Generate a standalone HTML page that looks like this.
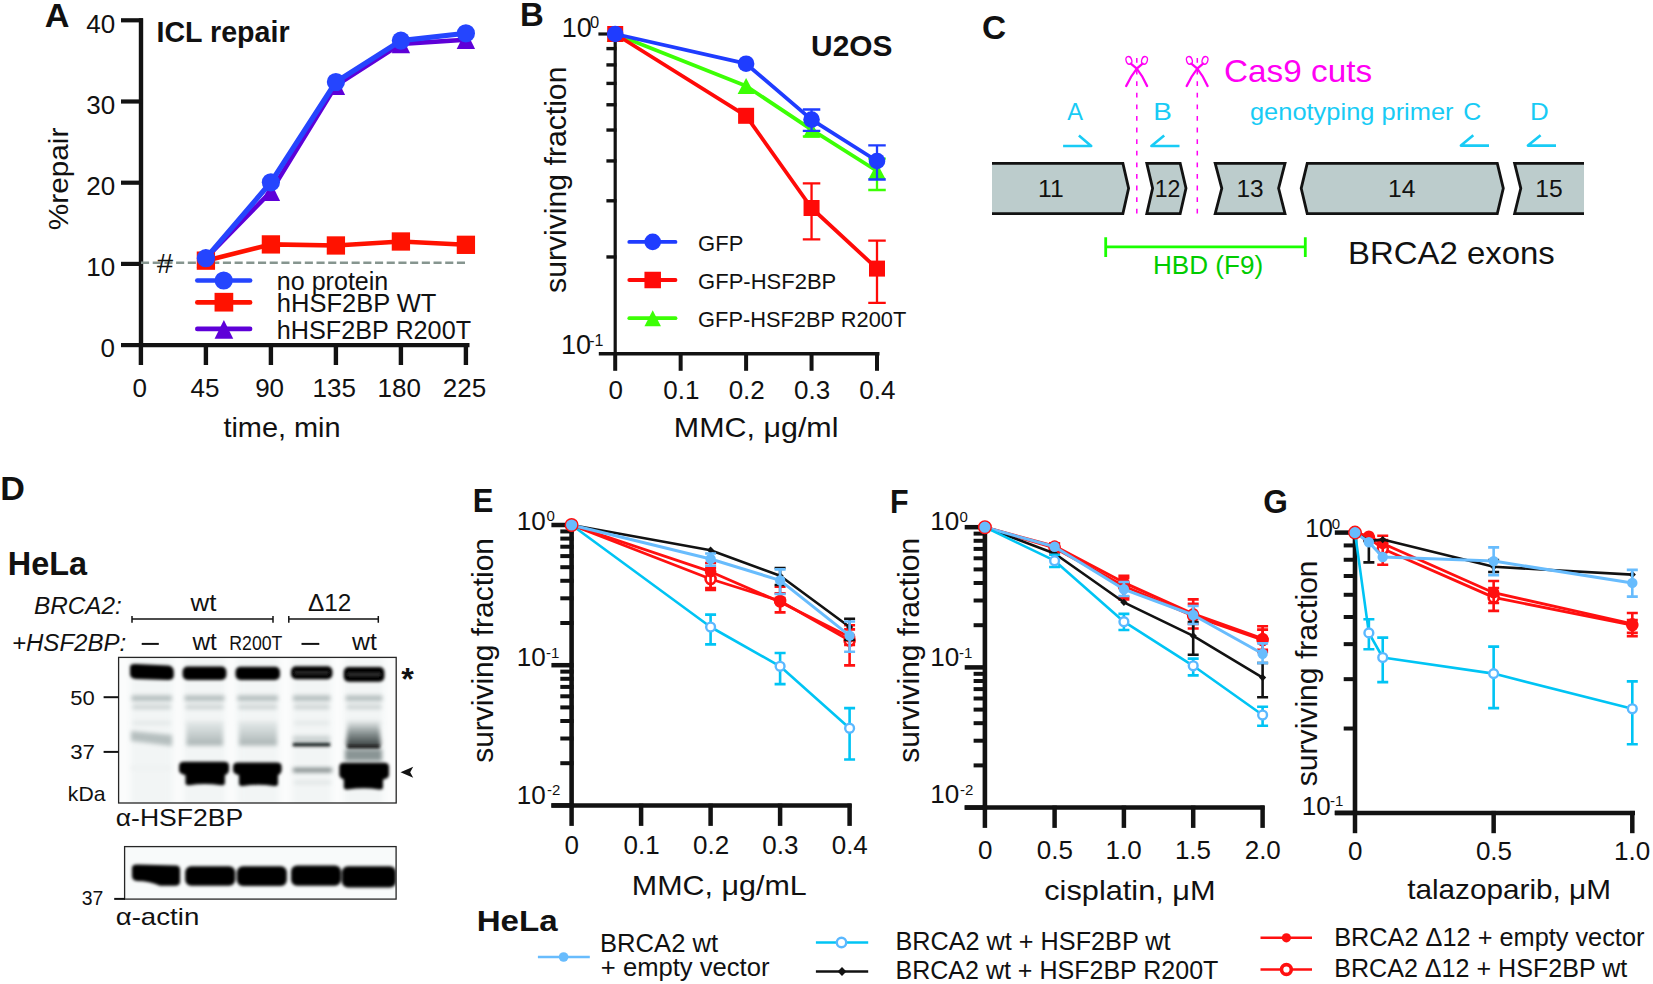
<!DOCTYPE html>
<html><head><meta charset="utf-8"><style>
html,body{margin:0;padding:0;background:#fff;}
body{width:1653px;height:984px;overflow:hidden;font-family:"Liberation Sans",sans-serif;}
svg{display:block;}
</style></head><body>
<svg width="1653" height="984" viewBox="0 0 1653 984">
<rect width="1653" height="984" fill="#fff"/>
<text x="44.67" y="26.50" font-family="Liberation Sans" font-size="34.00" font-weight="bold" fill="#111" textLength="24.73" lengthAdjust="spacingAndGlyphs">A</text>
<text x="156.50" y="41.70" font-family="Liberation Sans" font-size="29.00" font-weight="bold" fill="#111" textLength="133.08" lengthAdjust="spacingAndGlyphs">ICL repair</text>
<line x1="141.00" y1="18.20" x2="141.00" y2="347.00" stroke="#121212" stroke-width="4.4"/>
<line x1="121.00" y1="345.10" x2="142.90" y2="345.10" stroke="#121212" stroke-width="4.2"/>
<text x="100.48" y="357.30" font-family="Liberation Sans" font-size="26.00" fill="#111">0</text>
<line x1="121.00" y1="263.90" x2="142.90" y2="263.90" stroke="#121212" stroke-width="4.2"/>
<text x="86.18" y="276.10" font-family="Liberation Sans" font-size="26.00" fill="#111">10</text>
<line x1="121.00" y1="182.70" x2="142.90" y2="182.70" stroke="#121212" stroke-width="4.2"/>
<text x="86.18" y="194.90" font-family="Liberation Sans" font-size="26.00" fill="#111">20</text>
<line x1="121.00" y1="101.50" x2="142.90" y2="101.50" stroke="#121212" stroke-width="4.2"/>
<text x="86.18" y="113.70" font-family="Liberation Sans" font-size="26.00" fill="#111">30</text>
<line x1="121.00" y1="20.30" x2="142.90" y2="20.30" stroke="#121212" stroke-width="4.2"/>
<text x="86.18" y="32.50" font-family="Liberation Sans" font-size="26.00" fill="#111">40</text>
<line x1="139.00" y1="345.10" x2="469.50" y2="345.10" stroke="#121212" stroke-width="4.2"/>
<line x1="140.90" y1="343.50" x2="140.90" y2="365.00" stroke="#121212" stroke-width="4.4"/>
<text x="132.42" y="396.80" font-family="Liberation Sans" font-size="26.00" fill="#111">0</text>
<line x1="205.90" y1="343.50" x2="205.90" y2="365.00" stroke="#121212" stroke-width="4.4"/>
<text x="190.53" y="396.80" font-family="Liberation Sans" font-size="26.00" fill="#111">45</text>
<line x1="270.90" y1="343.50" x2="270.90" y2="365.00" stroke="#121212" stroke-width="4.4"/>
<text x="255.14" y="396.80" font-family="Liberation Sans" font-size="26.00" fill="#111">90</text>
<line x1="335.90" y1="343.50" x2="335.90" y2="365.00" stroke="#121212" stroke-width="4.4"/>
<text x="312.47" y="396.80" font-family="Liberation Sans" font-size="26.00" fill="#111">135</text>
<line x1="400.90" y1="343.50" x2="400.90" y2="365.00" stroke="#121212" stroke-width="4.4"/>
<text x="377.47" y="396.80" font-family="Liberation Sans" font-size="26.00" fill="#111">180</text>
<line x1="465.90" y1="343.50" x2="465.90" y2="365.00" stroke="#121212" stroke-width="4.4"/>
<text x="442.86" y="396.80" font-family="Liberation Sans" font-size="26.00" fill="#111">225</text>
<text x="223.41" y="437.00" font-family="Liberation Sans" font-size="28.00" fill="#111" textLength="117.20" lengthAdjust="spacingAndGlyphs">time, min</text>
<text transform="translate(67.50,229.10) rotate(-90)" x="-1.19" y="0" font-family="Liberation Sans" font-size="28.00" fill="#111" textLength="102.67" lengthAdjust="spacingAndGlyphs">%repair</text>
<line x1="141" y1="262.7" x2="467" y2="262.7" stroke="#86958f" stroke-width="2.4" stroke-dasharray="8.1 3.6"/>
<text x="156.62" y="273.20" font-family="Liberation Sans" font-size="27.00" font-style="italic" fill="#111" textLength="16.18" lengthAdjust="spacingAndGlyphs">#</text>
<polyline points="205.90,258.22 270.90,191.63 335.90,85.67 400.90,43.85 465.90,39.79" fill="none" stroke="#5e00d8" stroke-width="4.6" stroke-linejoin="round"/>
<polygon points="196.70,267.52 215.10,267.52 205.90,248.92" fill="#5e00d8"/>
<polygon points="261.70,200.93 280.10,200.93 270.90,182.33" fill="#5e00d8"/>
<polygon points="326.70,94.97 345.10,94.97 335.90,76.37" fill="#5e00d8"/>
<polygon points="391.70,53.15 410.10,53.15 400.90,34.55" fill="#5e00d8"/>
<polygon points="456.70,49.09 475.10,49.09 465.90,30.49" fill="#5e00d8"/>
<polyline points="205.90,260.65 270.90,244.41 335.90,245.47 400.90,241.49 465.90,244.82" fill="none" stroke="#ff1200" stroke-width="4.6" stroke-linejoin="round"/>
<rect x="196.75" y="251.50" width="18.30" height="18.30" fill="#ff1200"/>
<rect x="261.75" y="235.26" width="18.30" height="18.30" fill="#ff1200"/>
<rect x="326.75" y="236.32" width="18.30" height="18.30" fill="#ff1200"/>
<rect x="391.75" y="232.34" width="18.30" height="18.30" fill="#ff1200"/>
<rect x="456.75" y="235.67" width="18.30" height="18.30" fill="#ff1200"/>
<polyline points="205.90,258.22 270.90,182.29 335.90,82.01 400.90,40.60 465.90,33.29" fill="none" stroke="#2545fe" stroke-width="5.2" stroke-linejoin="round"/>
<circle cx="205.90" cy="258.22" r="9.10" fill="#2545fe" stroke="none" stroke-width="0"/>
<circle cx="270.90" cy="182.29" r="9.10" fill="#2545fe" stroke="none" stroke-width="0"/>
<circle cx="335.90" cy="82.01" r="9.10" fill="#2545fe" stroke="none" stroke-width="0"/>
<circle cx="400.90" cy="40.60" r="9.10" fill="#2545fe" stroke="none" stroke-width="0"/>
<circle cx="465.90" cy="33.29" r="9.10" fill="#2545fe" stroke="none" stroke-width="0"/>
<line x1="197.30" y1="280.50" x2="250.10" y2="280.50" stroke="#2545fe" stroke-width="4.6" stroke-linecap="round"/>
<circle cx="223.70" cy="280.50" r="9.10" fill="#2545fe" stroke="none" stroke-width="0"/>
<line x1="197.30" y1="302.40" x2="250.10" y2="302.40" stroke="#ff1200" stroke-width="4.6" stroke-linecap="round"/>
<rect x="214.55" y="292.85" width="18.70" height="18.70" fill="#ff1200"/>
<line x1="197.30" y1="328.90" x2="250.10" y2="328.90" stroke="#5e00d8" stroke-width="4.6" stroke-linecap="round"/>
<polygon points="214.55,338.75 233.25,338.75 223.90,320.05" fill="#5e00d8"/>
<text x="276.85" y="289.60" font-family="Liberation Sans" font-size="25.50" fill="#111" textLength="111.45" lengthAdjust="spacingAndGlyphs">no protein</text>
<text x="276.81" y="312.00" font-family="Liberation Sans" font-size="25.50" fill="#111">hHSF2BP WT</text>
<text x="276.84" y="338.80" font-family="Liberation Sans" font-size="25.50" fill="#111" textLength="194.21" lengthAdjust="spacingAndGlyphs">hHSF2BP R200T</text>
<text x="520.09" y="26.40" font-family="Liberation Sans" font-size="34.00" font-weight="bold" fill="#111" textLength="23.80" lengthAdjust="spacingAndGlyphs">B</text>
<text x="811.11" y="55.90" font-family="Liberation Sans" font-size="30.00" font-weight="bold" fill="#111" textLength="81.28" lengthAdjust="spacingAndGlyphs">U2OS</text>
<line x1="615.20" y1="32.50" x2="615.20" y2="355.00" stroke="#121212" stroke-width="3.2"/>
<line x1="598.40" y1="34.00" x2="616.50" y2="34.00" stroke="#121212" stroke-width="3.2"/>
<line x1="606.40" y1="256.97" x2="616.50" y2="256.97" stroke="#121212" stroke-width="3.4"/>
<line x1="606.40" y1="200.80" x2="616.50" y2="200.80" stroke="#121212" stroke-width="3.4"/>
<line x1="606.40" y1="160.94" x2="616.50" y2="160.94" stroke="#121212" stroke-width="3.4"/>
<line x1="606.40" y1="130.03" x2="616.50" y2="130.03" stroke="#121212" stroke-width="3.4"/>
<line x1="606.40" y1="104.77" x2="616.50" y2="104.77" stroke="#121212" stroke-width="3.4"/>
<line x1="606.40" y1="83.41" x2="616.50" y2="83.41" stroke="#121212" stroke-width="3.4"/>
<line x1="606.40" y1="64.91" x2="616.50" y2="64.91" stroke="#121212" stroke-width="3.4"/>
<line x1="606.40" y1="48.60" x2="616.50" y2="48.60" stroke="#121212" stroke-width="3.4"/>
<line x1="598.80" y1="353.70" x2="879.50" y2="353.70" stroke="#121212" stroke-width="3.4"/>
<line x1="615.20" y1="352.00" x2="615.20" y2="370.80" stroke="#121212" stroke-width="4"/>
<text x="608.42" y="398.70" font-family="Liberation Sans" font-size="26.00" fill="#111">0</text>
<line x1="680.65" y1="352.00" x2="680.65" y2="370.80" stroke="#121212" stroke-width="4"/>
<text x="663.21" y="398.70" font-family="Liberation Sans" font-size="26.00" fill="#111">0.1</text>
<line x1="746.10" y1="352.00" x2="746.10" y2="370.80" stroke="#121212" stroke-width="4"/>
<text x="728.66" y="398.70" font-family="Liberation Sans" font-size="26.00" fill="#111">0.2</text>
<line x1="811.55" y1="352.00" x2="811.55" y2="370.80" stroke="#121212" stroke-width="4"/>
<text x="793.98" y="398.70" font-family="Liberation Sans" font-size="26.00" fill="#111">0.3</text>
<line x1="877.00" y1="352.00" x2="877.00" y2="370.80" stroke="#121212" stroke-width="4"/>
<text x="859.30" y="398.70" font-family="Liberation Sans" font-size="26.00" fill="#111">0.4</text>
<text x="561.63" y="37.00" font-family="Liberation Sans" font-size="27.00" fill="#111" textLength="30.11" lengthAdjust="spacingAndGlyphs">10</text>
<text x="590.02" y="28.30" font-family="Liberation Sans" font-size="16.50" fill="#111">0</text>
<text x="560.93" y="353.70" font-family="Liberation Sans" font-size="27.00" fill="#111" textLength="30.11" lengthAdjust="spacingAndGlyphs">10</text>
<text x="589.16" y="346.30" font-family="Liberation Sans" font-size="16.00" fill="#111">-1</text>
<text x="673.87" y="436.90" font-family="Liberation Sans" font-size="28.00" fill="#111" textLength="164.64" lengthAdjust="spacingAndGlyphs">MMC, μg/ml</text>
<text transform="translate(566.00,292.00) rotate(-90)" x="-0.90" y="0" font-family="Liberation Sans" font-size="30.00" fill="#111" textLength="226.30" lengthAdjust="spacingAndGlyphs">surviving fraction</text>
<path d="M811.55,124.00V136.40M802.80,124.00h17.50M802.80,136.40h17.50" stroke="#3cff05" stroke-width="2.3" fill="none"/>
<path d="M877.00,158.70V190.00M868.25,158.70h17.50M868.25,190.00h17.50" stroke="#3cff05" stroke-width="2.3" fill="none"/>
<polyline points="615.20,34.00 746.10,86.00 811.55,129.70 877.00,171.00" fill="none" stroke="#3cff05" stroke-width="3.8" stroke-linejoin="round"/>
<polygon points="606.70,42.00 623.70,42.00 615.20,26.00" fill="#3cff05"/>
<polygon points="737.60,94.00 754.60,94.00 746.10,78.00" fill="#3cff05"/>
<polygon points="803.05,137.70 820.05,137.70 811.55,121.70" fill="#3cff05"/>
<polygon points="868.50,179.00 885.50,179.00 877.00,163.00" fill="#3cff05"/>
<path d="M811.55,183.30V239.40M802.80,183.30h17.50M802.80,239.40h17.50" stroke="#ff0a08" stroke-width="2.3" fill="none"/>
<path d="M877.00,240.70V302.90M868.25,240.70h17.50M868.25,302.90h17.50" stroke="#ff0a08" stroke-width="2.3" fill="none"/>
<polyline points="615.20,34.00 746.10,115.80 811.55,208.00 877.00,268.60" fill="none" stroke="#ff0a08" stroke-width="3.8" stroke-linejoin="round"/>
<rect x="607.20" y="26.00" width="16.00" height="16.00" fill="#ff0a08"/>
<rect x="738.10" y="107.80" width="16.00" height="16.00" fill="#ff0a08"/>
<rect x="803.55" y="200.00" width="16.00" height="16.00" fill="#ff0a08"/>
<rect x="869.00" y="260.60" width="16.00" height="16.00" fill="#ff0a08"/>
<path d="M811.55,109.50V130.80M802.80,109.50h17.50M802.80,130.80h17.50" stroke="#1f3cff" stroke-width="2.3" fill="none"/>
<path d="M877.00,145.30V179.50M868.25,145.30h17.50M868.25,179.50h17.50" stroke="#1f3cff" stroke-width="2.3" fill="none"/>
<polyline points="615.20,34.00 746.10,63.70 811.55,119.60 877.00,161.00" fill="none" stroke="#1f3cff" stroke-width="3.8" stroke-linejoin="round"/>
<circle cx="615.20" cy="34.00" r="8.30" fill="#1f3cff" stroke="none" stroke-width="0"/>
<circle cx="746.10" cy="63.70" r="8.30" fill="#1f3cff" stroke="none" stroke-width="0"/>
<circle cx="811.55" cy="119.60" r="8.30" fill="#1f3cff" stroke="none" stroke-width="0"/>
<circle cx="877.00" cy="161.00" r="8.30" fill="#1f3cff" stroke="none" stroke-width="0"/>
<line x1="629.30" y1="241.90" x2="675.50" y2="241.90" stroke="#1f3cff" stroke-width="3.8" stroke-linecap="round"/>
<circle cx="652.70" cy="241.90" r="8.30" fill="#1f3cff" stroke="none" stroke-width="0"/>
<line x1="629.30" y1="280.00" x2="675.50" y2="280.00" stroke="#ff0a08" stroke-width="3.8" stroke-linecap="round"/>
<rect x="644.45" y="271.75" width="16.50" height="16.50" fill="#ff0a08"/>
<line x1="629.30" y1="318.20" x2="675.50" y2="318.20" stroke="#3cff05" stroke-width="3.8" stroke-linecap="round"/>
<polygon points="644.45,326.20 660.95,326.20 652.70,310.20" fill="#3cff05"/>
<text x="698.10" y="250.80" font-family="Liberation Sans" font-size="22.00" fill="#111">GFP</text>
<text x="698.10" y="288.80" font-family="Liberation Sans" font-size="22.00" fill="#111">GFP-HSF2BP</text>
<text x="698.11" y="327.00" font-family="Liberation Sans" font-size="22.00" fill="#111" textLength="208.13" lengthAdjust="spacingAndGlyphs">GFP-HSF2BP R200T</text>
<text x="981.96" y="39.40" font-family="Liberation Sans" font-size="34.00" font-weight="bold" fill="#111" textLength="24.11" lengthAdjust="spacingAndGlyphs">C</text>
<polygon points="992,163.4 1122.9,163.4 1128.6,188.3 1122.9,213.6 992,213.6" fill="#bccccc"/>
<polyline points="992,163.4 1122.9,163.4 1128.6,188.3 1122.9,213.6 992,213.6" fill="none" stroke="#121212" stroke-width="2.8" stroke-linejoin="miter"/>
<polygon points="1146.8,163.4 1180.2,163.4 1186,188.3 1180.2,213.6 1146.8,213.6 1152.6,188.3" fill="#bccccc" stroke="#121212" stroke-width="2.8"/>
<polygon points="1215.2,163.4 1285,163.4 1278.6,188.3 1285,213.6 1215.2,213.6 1221.8,188.3" fill="#bccccc" stroke="#121212" stroke-width="2.8"/>
<polygon points="1307.2,163.4 1497.3,163.4 1503.3,188.3 1497.3,213.6 1307.2,213.6 1301.2,188.3" fill="#bccccc" stroke="#121212" stroke-width="2.8"/>
<polygon points="1514.6,163.4 1584,163.4 1584,213.6 1514.6,213.6 1520.8,188.3" fill="#bccccc"/>
<polyline points="1584,163.4 1514.6,163.4 1520.8,188.3 1514.6,213.6 1584,213.6" fill="none" stroke="#121212" stroke-width="2.8"/>
<text x="1038.02" y="196.60" font-family="Liberation Sans" font-size="23.50" fill="#111" textLength="25.67" lengthAdjust="spacingAndGlyphs">11</text>
<text x="1154.65" y="196.60" font-family="Liberation Sans" font-size="23.50" fill="#111" textLength="25.77" lengthAdjust="spacingAndGlyphs">12</text>
<text x="1236.44" y="196.60" font-family="Liberation Sans" font-size="23.50" fill="#111" textLength="27.19" lengthAdjust="spacingAndGlyphs">13</text>
<text x="1388.03" y="196.60" font-family="Liberation Sans" font-size="23.50" fill="#111" textLength="27.36" lengthAdjust="spacingAndGlyphs">14</text>
<text x="1535.23" y="196.60" font-family="Liberation Sans" font-size="23.50" fill="#111" textLength="27.42" lengthAdjust="spacingAndGlyphs">15</text>
<line x1="1136.8" y1="58" x2="1136.8" y2="214" stroke="#ff00f4" stroke-width="1.5" stroke-dasharray="4.8 6.8"/>
<g fill="none" stroke="#ff00f4" stroke-linecap="round"><ellipse cx="1128.8999999999999" cy="60.4" rx="2.8" ry="3.9" stroke-width="1.3" transform="rotate(-18 1128.8999999999999 60.4)"/><ellipse cx="1144.5" cy="60.4" rx="2.8" ry="3.9" stroke-width="1.3" transform="rotate(18 1144.5 60.4)"/><path d="M1130.8,63.6 L1136.8,68.6 Q1142.8,76 1147.1,86" stroke-width="2.3"/><path d="M1142.6,63.6 L1136.8,68.6 Q1130.8,76 1126.2,86" stroke-width="2.3"/></g>
<line x1="1197.3" y1="58" x2="1197.3" y2="214" stroke="#ff00f4" stroke-width="1.5" stroke-dasharray="4.8 6.8"/>
<g fill="none" stroke="#ff00f4" stroke-linecap="round"><ellipse cx="1189.3999999999999" cy="60.4" rx="2.8" ry="3.9" stroke-width="1.3" transform="rotate(-18 1189.3999999999999 60.4)"/><ellipse cx="1205.0" cy="60.4" rx="2.8" ry="3.9" stroke-width="1.3" transform="rotate(18 1205.0 60.4)"/><path d="M1191.3,63.6 L1197.3,68.6 Q1203.3,76 1207.6,86" stroke-width="2.3"/><path d="M1203.1,63.6 L1197.3,68.6 Q1191.3,76 1186.7,86" stroke-width="2.3"/></g>
<text x="1223.93" y="82.30" font-family="Liberation Sans" font-size="32.00" fill="#ff00f4" textLength="148.18" lengthAdjust="spacingAndGlyphs">Cas9 cuts</text>
<text x="1067.20" y="120.10" font-family="Liberation Sans" font-size="24.00" fill="#18cbf5" textLength="15.77" lengthAdjust="spacingAndGlyphs">A</text>
<text x="1153.17" y="120.10" font-family="Liberation Sans" font-size="24.00" fill="#18cbf5" textLength="18.63" lengthAdjust="spacingAndGlyphs">B</text>
<text x="1463.35" y="120.10" font-family="Liberation Sans" font-size="24.00" fill="#18cbf5" textLength="18.00" lengthAdjust="spacingAndGlyphs">C</text>
<text x="1529.93" y="120.10" font-family="Liberation Sans" font-size="24.00" fill="#18cbf5" textLength="18.73" lengthAdjust="spacingAndGlyphs">D</text>
<text x="1249.98" y="120.20" font-family="Liberation Sans" font-size="24.50" fill="#18cbf5" textLength="203.59" lengthAdjust="spacingAndGlyphs">genotyping primer</text>
<g fill="none" stroke="#18cbf5" stroke-width="2.6" stroke-linejoin="round"><polyline points="1063.1,146 1091.2,146 1078.9,135.6"/><polyline points="1179.5,146 1151.4,146 1164.2,135.6"/><polyline points="1489,145.6 1460.9,145.6 1473.3,135.3"/><polyline points="1556,145.6 1527.9,145.6 1540.6,135.3"/></g>
<path d="M1105.7,246.9H1305.3M1105.7,237.2V256.9M1305.3,237.2V256.9" stroke="#1aff00" stroke-width="2.8" fill="none"/>
<text x="1152.91" y="274.40" font-family="Liberation Sans" font-size="26.00" fill="#00cc00" textLength="110.21" lengthAdjust="spacingAndGlyphs">HBD (F9)</text>
<text x="1348.07" y="264.40" font-family="Liberation Sans" font-size="32.00" fill="#111" textLength="206.67" lengthAdjust="spacingAndGlyphs">BRCA2 exons</text>
<text x="0.31" y="500.20" font-family="Liberation Sans" font-size="34.00" font-weight="bold" fill="#111" textLength="24.63" lengthAdjust="spacingAndGlyphs">D</text>
<text x="7.73" y="575.10" font-family="Liberation Sans" font-size="33.00" font-weight="bold" fill="#111" textLength="79.32" lengthAdjust="spacingAndGlyphs">HeLa</text>
<text x="33.97" y="614.20" font-family="Liberation Sans" font-size="24.50" font-style="italic" fill="#111" textLength="87.76" lengthAdjust="spacingAndGlyphs">BRCA2:</text>
<text x="11.96" y="650.60" font-family="Liberation Sans" font-size="24.50" font-style="italic" fill="#111" textLength="114.25" lengthAdjust="spacingAndGlyphs">+HSF2BP:</text>
<text x="190.50" y="611.20" font-family="Liberation Sans" font-size="24.50" fill="#111" textLength="25.86" lengthAdjust="spacingAndGlyphs">wt</text>
<text x="308.07" y="611.20" font-family="Liberation Sans" font-size="24.50" fill="#111" textLength="43.36" lengthAdjust="spacingAndGlyphs">Δ12</text>
<path d="M132,619H273M132,615.9V622.7M273,615.9V622.7M288.8,619H378.3M288.8,615.9V622.7M378.3,615.9V622.7" stroke="#121212" stroke-width="1.5" fill="none"/>
<line x1="141.70" y1="643.90" x2="158.80" y2="643.90" stroke="#121212" stroke-width="2"/>
<line x1="301.50" y1="643.90" x2="319.30" y2="643.90" stroke="#121212" stroke-width="2"/>
<text x="192.40" y="649.50" font-family="Liberation Sans" font-size="24.50" fill="#111" textLength="24.44" lengthAdjust="spacingAndGlyphs">wt</text>
<text x="229.28" y="649.50" font-family="Liberation Sans" font-size="21.00" fill="#111" textLength="53.10" lengthAdjust="spacingAndGlyphs">R200T</text>
<text x="352.00" y="649.50" font-family="Liberation Sans" font-size="24.50" fill="#111" textLength="24.85" lengthAdjust="spacingAndGlyphs">wt</text>
<defs><filter id="b1" x="-20%" y="-50%" width="140%" height="200%"><feGaussianBlur stdDeviation="1.4"/></filter><filter id="b2" x="-30%" y="-80%" width="160%" height="260%"><feGaussianBlur stdDeviation="2.3"/></filter><filter id="b3" x="-30%" y="-80%" width="160%" height="260%"><feGaussianBlur stdDeviation="3.2"/></filter><clipPath id="cb1"><rect x="118.5" y="657.5" width="277.5" height="145.5"/></clipPath><clipPath id="cb2"><rect x="124.8" y="847" width="271.4" height="52"/></clipPath><linearGradient id="sm2" x1="0" y1="0" x2="0" y2="1"><stop offset="0" stop-color="#dfe5e5"/><stop offset="0.55" stop-color="#c3cbcb"/><stop offset="1" stop-color="#a9b3b3"/></linearGradient><linearGradient id="sm5" x1="0" y1="0" x2="0" y2="1"><stop offset="0" stop-color="#eef2f2"/><stop offset="0.5" stop-color="#8a9494"/><stop offset="1" stop-color="#3a4242"/></linearGradient></defs>
<g clip-path="url(#cb1)">
<rect x="118.5" y="657.5" width="277.5" height="145.5" fill="#fbfcfc"/>
<g filter="url(#b3)">
<rect x="130.6" y="657" width="42.20000000000002" height="150" fill="#f2f5f5"/>
<rect x="183.6" y="657" width="41.80000000000001" height="150" fill="#f2f5f5"/>
<rect x="236.5" y="657" width="42.5" height="150" fill="#f2f5f5"/>
<rect x="292" y="657" width="39.39999999999998" height="150" fill="#f2f5f5"/>
<rect x="344.7" y="657" width="38.69999999999999" height="150" fill="#f2f5f5"/>
</g>
<g filter="url(#b2)">
<rect x="131.6" y="695.5" width="40.20000000000002" height="5.5" fill="#b4bdbd"/>
<rect x="132.6" y="705" width="38.20000000000002" height="4" fill="#c9d0d0"/>
<rect x="132.6" y="721.5" width="38.20000000000002" height="3" fill="#e0e5e5"/>
<rect x="184.6" y="695.5" width="39.80000000000001" height="5.5" fill="#b4bdbd"/>
<rect x="185.6" y="705" width="37.80000000000001" height="4" fill="#c9d0d0"/>
<rect x="185.6" y="721.5" width="37.80000000000001" height="3" fill="#e0e5e5"/>
<rect x="237.5" y="695.5" width="40.5" height="5.5" fill="#b4bdbd"/>
<rect x="238.5" y="705" width="38.5" height="4" fill="#c9d0d0"/>
<rect x="238.5" y="721.5" width="38.5" height="3" fill="#e0e5e5"/>
<rect x="293" y="695.5" width="37.39999999999998" height="5.5" fill="#b4bdbd"/>
<rect x="294" y="705" width="35.39999999999998" height="4" fill="#c9d0d0"/>
<rect x="294" y="721.5" width="35.39999999999998" height="3" fill="#e0e5e5"/>
<rect x="345.7" y="695.5" width="36.69999999999999" height="5.5" fill="#b4bdbd"/>
<rect x="346.7" y="705" width="34.69999999999999" height="4" fill="#c9d0d0"/>
<rect x="346.7" y="721.5" width="34.69999999999999" height="3" fill="#e0e5e5"/>
<path d="M131,731 Q150,733 172,735 L172,746 Q150,743 131,741 Z" fill="#b6bfbf"/>
<rect x="186.5" y="724" width="36.5" height="21.5" fill="url(#sm2)"/>
<rect x="239" y="724" width="38" height="21.5" fill="url(#sm2)"/>
<rect x="293" y="736" width="37" height="6" fill="#c9d0d0"/>
<path d="M348,720 L379,720 L381,746 L346,746 Z" fill="url(#sm5)"/>
<rect x="345" y="749" width="37" height="12" fill="#8a9595"/>
<rect x="293" y="768" width="39" height="4.2" fill="#7a8484"/>
<rect x="294" y="781" width="37" height="3" fill="#dde2e2"/>
<rect x="131" y="766" width="40" height="4" fill="#eef1f1"/>
</g>
<g filter="url(#b1)">
<rect x="292.5" y="742.8" width="38" height="3.8" rx="1.5" fill="#1e2222"/>
<rect x="347" y="744.6" width="33" height="3.6" rx="1.5" fill="#0c0c0c"/>
<path d="M130,667 Q130,663.5 136,664 L168,665.5 Q173.8,666 173.8,672 L173.8,676 Q173.5,680 168,680 L136,679 Q130,678.5 130,674 Z" fill="#060606"/>
<rect x="182.6" y="666.6" width="43.80000000000001" height="13.399999999999977" rx="5" fill="#060606"/>
<rect x="235.5" y="666.8" width="44.5" height="13.200000000000045" rx="5" fill="#060606"/>
<rect x="291" y="666.3" width="41.39999999999998" height="13.0" rx="5" fill="#060606"/>
<rect x="343.7" y="667" width="40.69999999999999" height="14.700000000000045" rx="5" fill="#060606"/>
<rect x="295" y="672.3" width="33.39999999999998" height="1.0" fill="#555"/>
<rect x="347.7" y="673.9" width="32.69999999999999" height="1.0" fill="#555"/>
<path d="M179.1,765.8 Q179.1,761.8 184.1,761.8 L224,761.8 Q229,761.8 229,765.8 L229,771 Q228,774 224.9,775 L224.9,783.2 Q224.9,785.2 220.9,785.2 Q204.05,782.7 189.5,785.2 Q185.5,785.2 185.5,783.2 L185.5,775 Q180.1,774 179.1,771 Z" fill="#060606"/>
<path d="M233.1,766.6 Q233.1,762.6 238.1,762.6 L276.6,762.6 Q281.6,762.6 281.6,766.6 L281.6,771 Q280.6,774 278,775 L278,784 Q278,786 274,786 Q257.35,783.5 243,786 Q239,786 239,784 L239,775 Q234.1,774 233.1,771 Z" fill="#060606"/>
<path d="M339.3,766.7 Q339.3,762.7 344.3,762.7 L384,762.7 Q389,762.7 389,766.7 L389,775.4 Q388,778.4 383,779.4 L383,787.6 Q383,789.6 379,789.6 Q364.15,787.1 347.8,789.6 Q343.8,789.6 343.8,787.6 L343.8,779.4 Q340.3,778.4 339.3,775.4 Z" fill="#060606"/>
</g>
</g>
<rect x="118.6" y="657.4" width="277.6" height="145.6" fill="none" stroke="#262626" stroke-width="1.3"/>
<text x="401.20" y="690.00" font-family="Liberation Sans" font-size="32.00" font-weight="bold" fill="#111" textLength="12.57" lengthAdjust="spacingAndGlyphs">*</text>
<polygon points="400.5,772.3 413.2,766.8 410.2,772.3 413.2,777.8" fill="#121212"/>
<text x="70.22" y="705.10" font-family="Liberation Sans" font-size="19.50" fill="#111" textLength="24.51" lengthAdjust="spacingAndGlyphs">50</text>
<line x1="103.60" y1="697.20" x2="118.50" y2="697.20" stroke="#121212" stroke-width="2"/>
<text x="70.21" y="759.30" font-family="Liberation Sans" font-size="19.50" fill="#111" textLength="24.76" lengthAdjust="spacingAndGlyphs">37</text>
<line x1="103.60" y1="751.90" x2="118.50" y2="751.90" stroke="#121212" stroke-width="2"/>
<text x="67.82" y="801.10" font-family="Liberation Sans" font-size="21.00" fill="#111" textLength="37.65" lengthAdjust="spacingAndGlyphs">kDa</text>
<text x="115.74" y="826.20" font-family="Liberation Sans" font-size="24.00" fill="#111" textLength="127.53" lengthAdjust="spacingAndGlyphs">α-HSF2BP</text>
<g clip-path="url(#cb2)">
<rect x="124.8" y="847" width="271.4" height="52" fill="#f8fafa"/>
<g filter="url(#b1)">
<path d="M132,868 Q132,864.6 137,864.6 L176,865.5 Q180.1,865.5 180.1,870 L180.1,882 Q180,885.7 175,885.7 L160,885.7 Q150,881 137,881 Q132,880.6 132,876 Z" fill="#060606"/>
<rect x="185.2" y="866.3" width="50.0" height="19.40000000000009" rx="6" fill="#060606"/>
<rect x="236.9" y="866.3" width="49.900000000000006" height="19.700000000000045" rx="6" fill="#060606"/>
<rect x="291.1" y="865.5" width="49.89999999999998" height="20.200000000000045" rx="6" fill="#060606"/>
<rect x="341.9" y="866.3" width="54.10000000000002" height="21.100000000000023" rx="6" fill="#060606"/>
</g></g>
<rect x="124.6" y="846.6" width="271.5" height="52.5" fill="none" stroke="#262626" stroke-width="1.3"/>
<text x="81.72" y="905.20" font-family="Liberation Sans" font-size="19.50" fill="#111" textLength="21.59" lengthAdjust="spacingAndGlyphs">37</text>
<line x1="114.20" y1="898.90" x2="125.00" y2="898.90" stroke="#121212" stroke-width="2"/>
<text x="115.69" y="924.50" font-family="Liberation Sans" font-size="24.00" fill="#111" textLength="83.56" lengthAdjust="spacingAndGlyphs">α-actin</text>
<text x="472.64" y="512.40" font-family="Liberation Sans" font-size="34.00" font-weight="bold" fill="#111" textLength="20.61" lengthAdjust="spacingAndGlyphs">E</text>
<line x1="571.60" y1="522.80" x2="571.60" y2="807.60" stroke="#121212" stroke-width="4.6"/>
<line x1="551.40" y1="525.00" x2="573.60" y2="525.00" stroke="#121212" stroke-width="4.5"/>
<line x1="551.40" y1="665.20" x2="573.60" y2="665.20" stroke="#121212" stroke-width="4.5"/>
<line x1="551.40" y1="805.40" x2="573.60" y2="805.40" stroke="#121212" stroke-width="4.5"/>
<line x1="560.30" y1="623.00" x2="573.60" y2="623.00" stroke="#121212" stroke-width="4.0"/>
<line x1="560.30" y1="598.31" x2="573.60" y2="598.31" stroke="#121212" stroke-width="4.0"/>
<line x1="560.30" y1="580.79" x2="573.60" y2="580.79" stroke="#121212" stroke-width="4.0"/>
<line x1="560.30" y1="567.20" x2="573.60" y2="567.20" stroke="#121212" stroke-width="4.0"/>
<line x1="560.30" y1="556.10" x2="573.60" y2="556.10" stroke="#121212" stroke-width="4.0"/>
<line x1="560.30" y1="546.72" x2="573.60" y2="546.72" stroke="#121212" stroke-width="4.0"/>
<line x1="560.30" y1="538.59" x2="573.60" y2="538.59" stroke="#121212" stroke-width="4.0"/>
<line x1="560.30" y1="531.42" x2="573.60" y2="531.42" stroke="#121212" stroke-width="4.0"/>
<line x1="560.30" y1="763.20" x2="573.60" y2="763.20" stroke="#121212" stroke-width="4.0"/>
<line x1="560.30" y1="738.51" x2="573.60" y2="738.51" stroke="#121212" stroke-width="4.0"/>
<line x1="560.30" y1="720.99" x2="573.60" y2="720.99" stroke="#121212" stroke-width="4.0"/>
<line x1="560.30" y1="707.40" x2="573.60" y2="707.40" stroke="#121212" stroke-width="4.0"/>
<line x1="560.30" y1="696.30" x2="573.60" y2="696.30" stroke="#121212" stroke-width="4.0"/>
<line x1="560.30" y1="686.92" x2="573.60" y2="686.92" stroke="#121212" stroke-width="4.0"/>
<line x1="560.30" y1="678.79" x2="573.60" y2="678.79" stroke="#121212" stroke-width="4.0"/>
<line x1="560.30" y1="671.62" x2="573.60" y2="671.62" stroke="#121212" stroke-width="4.0"/>
<line x1="551.40" y1="805.60" x2="851.50" y2="805.60" stroke="#121212" stroke-width="4.5"/>
<line x1="571.60" y1="803.60" x2="571.60" y2="825.90" stroke="#121212" stroke-width="4.5"/>
<text x="564.62" y="854.10" font-family="Liberation Sans" font-size="26.00" fill="#111">0</text>
<line x1="641.10" y1="803.60" x2="641.10" y2="825.90" stroke="#121212" stroke-width="4.5"/>
<text x="623.46" y="854.10" font-family="Liberation Sans" font-size="26.00" fill="#111">0.1</text>
<line x1="710.60" y1="803.60" x2="710.60" y2="825.90" stroke="#121212" stroke-width="4.5"/>
<text x="692.96" y="854.10" font-family="Liberation Sans" font-size="26.00" fill="#111">0.2</text>
<line x1="780.10" y1="803.60" x2="780.10" y2="825.90" stroke="#121212" stroke-width="4.5"/>
<text x="762.33" y="854.10" font-family="Liberation Sans" font-size="26.00" fill="#111">0.3</text>
<line x1="849.60" y1="803.60" x2="849.60" y2="825.90" stroke="#121212" stroke-width="4.5"/>
<text x="831.70" y="854.10" font-family="Liberation Sans" font-size="26.00" fill="#111">0.4</text>
<text x="516.72" y="529.60" font-family="Liberation Sans" font-size="26.50" fill="#111" textLength="28.99" lengthAdjust="spacingAndGlyphs">10</text>
<text x="546.50" y="521.30" font-family="Liberation Sans" font-size="15.00" fill="#111">0</text>
<text x="516.72" y="665.80" font-family="Liberation Sans" font-size="26.50" fill="#111" textLength="28.99" lengthAdjust="spacingAndGlyphs">10</text>
<text x="546.00" y="657.50" font-family="Liberation Sans" font-size="15.00" fill="#111">-1</text>
<text x="516.72" y="803.60" font-family="Liberation Sans" font-size="26.50" fill="#111" textLength="28.99" lengthAdjust="spacingAndGlyphs">10</text>
<text x="547.00" y="795.30" font-family="Liberation Sans" font-size="15.00" fill="#111">-2</text>
<text x="631.86" y="895.00" font-family="Liberation Sans" font-size="28.00" fill="#111" textLength="174.85" lengthAdjust="spacingAndGlyphs">MMC, μg/mL</text>
<text transform="translate(493.00,761.90) rotate(-90)" x="-0.90" y="0" font-family="Liberation Sans" font-size="30.00" fill="#111" textLength="224.79" lengthAdjust="spacingAndGlyphs">surviving fraction</text>
<path d="M710.60,568.00V588.00M705.10,568.00h11.00M705.10,588.00h11.00" stroke="#ff1010" stroke-width="2.6" fill="none"/>
<path d="M780.10,586.80V598.00M774.60,586.80h11.00M774.60,598.00h11.00" stroke="#ff1010" stroke-width="2.6" fill="none"/>
<path d="M849.60,629.40V645.00M844.10,629.40h11.00M844.10,645.00h11.00" stroke="#ff1010" stroke-width="2.6" fill="none"/>
<polyline points="571.60,525.00 710.60,579.00 780.10,601.00 849.60,640.50" fill="none" stroke="#ff1010" stroke-width="2.8" stroke-linejoin="round"/>
<circle cx="571.60" cy="525.00" r="5.00" fill="#fff" stroke="#ff1010" stroke-width="2.6"/>
<circle cx="710.60" cy="579.00" r="5.00" fill="#fff" stroke="#ff1010" stroke-width="2.6"/>
<circle cx="780.10" cy="601.00" r="5.00" fill="#fff" stroke="#ff1010" stroke-width="2.6"/>
<circle cx="849.60" cy="640.50" r="5.00" fill="#fff" stroke="#ff1010" stroke-width="2.6"/>
<path d="M710.60,563.00V589.90M705.10,563.00h11.00M705.10,589.90h11.00" stroke="#ff1010" stroke-width="2.6" fill="none"/>
<path d="M780.10,593.20V612.40M774.60,593.20h11.00M774.60,612.40h11.00" stroke="#ff1010" stroke-width="2.6" fill="none"/>
<path d="M849.60,625.20V665.40M844.10,625.20h11.00M844.10,665.40h11.00" stroke="#ff1010" stroke-width="2.6" fill="none"/>
<polyline points="571.60,525.00 710.60,571.70 780.10,602.00 849.60,637.00" fill="none" stroke="#ff1010" stroke-width="2.8" stroke-linejoin="round"/>
<circle cx="571.60" cy="525.00" r="5.80" fill="#ff1010" stroke="none" stroke-width="0"/>
<circle cx="710.60" cy="571.70" r="5.80" fill="#ff1010" stroke="none" stroke-width="0"/>
<circle cx="780.10" cy="602.00" r="5.80" fill="#ff1010" stroke="none" stroke-width="0"/>
<circle cx="849.60" cy="637.00" r="5.80" fill="#ff1010" stroke="none" stroke-width="0"/>
<path d="M780.10,568.00V585.00M774.60,568.00h11.00M774.60,585.00h11.00" stroke="#121212" stroke-width="2.6" fill="none"/>
<path d="M849.60,618.80V640.00M844.10,618.80h11.00M844.10,640.00h11.00" stroke="#121212" stroke-width="2.6" fill="none"/>
<polyline points="571.60,525.00 710.60,550.20 780.10,575.80 849.60,627.00" fill="none" stroke="#121212" stroke-width="2.6" stroke-linejoin="round"/>
<polygon points="568.00,525.00 571.60,521.40 575.20,525.00 571.60,528.60" fill="#121212"/>
<polygon points="707.00,550.20 710.60,546.60 714.20,550.20 710.60,553.80" fill="#121212"/>
<polygon points="776.50,575.80 780.10,572.20 783.70,575.80 780.10,579.40" fill="#121212"/>
<polygon points="846.00,627.00 849.60,623.40 853.20,627.00 849.60,630.60" fill="#121212"/>
<path d="M710.60,553.50V565.70M705.10,553.50h11.00M705.10,565.70h11.00" stroke="#68bcfd" stroke-width="2.6" fill="none"/>
<path d="M780.10,569.40V594.00M774.60,569.40h11.00M774.60,594.00h11.00" stroke="#68bcfd" stroke-width="2.6" fill="none"/>
<path d="M849.60,621.50V651.70M844.10,621.50h11.00M844.10,651.70h11.00" stroke="#68bcfd" stroke-width="2.6" fill="none"/>
<polyline points="571.60,525.00 710.60,559.00 780.10,580.40 849.60,635.60" fill="none" stroke="#68bcfd" stroke-width="3.0" stroke-linejoin="round"/>
<circle cx="571.60" cy="525.00" r="5.20" fill="#68bcfd" stroke="none" stroke-width="0"/>
<circle cx="710.60" cy="559.00" r="5.20" fill="#68bcfd" stroke="none" stroke-width="0"/>
<circle cx="780.10" cy="580.40" r="5.20" fill="#68bcfd" stroke="none" stroke-width="0"/>
<circle cx="849.60" cy="635.60" r="5.20" fill="#68bcfd" stroke="none" stroke-width="0"/>
<path d="M710.60,614.60V644.40M705.10,614.60h11.00M705.10,644.40h11.00" stroke="#00c4f4" stroke-width="2.6" fill="none"/>
<path d="M780.10,653.00V684.10M774.60,653.00h11.00M774.60,684.10h11.00" stroke="#00c4f4" stroke-width="2.6" fill="none"/>
<path d="M849.60,708.10V759.50M844.10,708.10h11.00M844.10,759.50h11.00" stroke="#00c4f4" stroke-width="2.6" fill="none"/>
<polyline points="571.60,525.00 710.60,627.00 780.10,666.30 849.60,728.20" fill="none" stroke="#00c4f4" stroke-width="2.6" stroke-linejoin="round"/>
<circle cx="571.60" cy="525.00" r="4.40" fill="#fff" stroke="#5ab8ff" stroke-width="2.4"/>
<circle cx="710.60" cy="627.00" r="4.40" fill="#fff" stroke="#5ab8ff" stroke-width="2.4"/>
<circle cx="780.10" cy="666.30" r="4.40" fill="#fff" stroke="#5ab8ff" stroke-width="2.4"/>
<circle cx="849.60" cy="728.20" r="4.40" fill="#fff" stroke="#5ab8ff" stroke-width="2.4"/>
<circle cx="571.60" cy="525.00" r="6.30" fill="#68bcfd" stroke="#ff1010" stroke-width="1.4"/>
<text x="890.07" y="512.50" font-family="Liberation Sans" font-size="34.00" font-weight="bold" fill="#111" textLength="18.57" lengthAdjust="spacingAndGlyphs">F</text>
<line x1="984.90" y1="525.00" x2="984.90" y2="809.60" stroke="#121212" stroke-width="4.6"/>
<line x1="964.70" y1="527.20" x2="986.90" y2="527.20" stroke="#121212" stroke-width="4.5"/>
<line x1="964.70" y1="667.40" x2="986.90" y2="667.40" stroke="#121212" stroke-width="4.5"/>
<line x1="964.70" y1="807.60" x2="986.90" y2="807.60" stroke="#121212" stroke-width="4.5"/>
<line x1="973.60" y1="625.20" x2="986.90" y2="625.20" stroke="#121212" stroke-width="4.0"/>
<line x1="973.60" y1="600.51" x2="986.90" y2="600.51" stroke="#121212" stroke-width="4.0"/>
<line x1="973.60" y1="582.99" x2="986.90" y2="582.99" stroke="#121212" stroke-width="4.0"/>
<line x1="973.60" y1="569.40" x2="986.90" y2="569.40" stroke="#121212" stroke-width="4.0"/>
<line x1="973.60" y1="558.30" x2="986.90" y2="558.30" stroke="#121212" stroke-width="4.0"/>
<line x1="973.60" y1="548.92" x2="986.90" y2="548.92" stroke="#121212" stroke-width="4.0"/>
<line x1="973.60" y1="540.79" x2="986.90" y2="540.79" stroke="#121212" stroke-width="4.0"/>
<line x1="973.60" y1="533.62" x2="986.90" y2="533.62" stroke="#121212" stroke-width="4.0"/>
<line x1="973.60" y1="765.40" x2="986.90" y2="765.40" stroke="#121212" stroke-width="4.0"/>
<line x1="973.60" y1="740.71" x2="986.90" y2="740.71" stroke="#121212" stroke-width="4.0"/>
<line x1="973.60" y1="723.19" x2="986.90" y2="723.19" stroke="#121212" stroke-width="4.0"/>
<line x1="973.60" y1="709.60" x2="986.90" y2="709.60" stroke="#121212" stroke-width="4.0"/>
<line x1="973.60" y1="698.50" x2="986.90" y2="698.50" stroke="#121212" stroke-width="4.0"/>
<line x1="973.60" y1="689.12" x2="986.90" y2="689.12" stroke="#121212" stroke-width="4.0"/>
<line x1="973.60" y1="680.99" x2="986.90" y2="680.99" stroke="#121212" stroke-width="4.0"/>
<line x1="973.60" y1="673.82" x2="986.90" y2="673.82" stroke="#121212" stroke-width="4.0"/>
<line x1="964.70" y1="807.60" x2="1264.50" y2="807.60" stroke="#121212" stroke-width="4.5"/>
<line x1="984.90" y1="805.60" x2="984.90" y2="827.90" stroke="#121212" stroke-width="4.5"/>
<text x="977.92" y="858.70" font-family="Liberation Sans" font-size="26.00" fill="#111">0</text>
<line x1="1054.60" y1="805.60" x2="1054.60" y2="827.90" stroke="#121212" stroke-width="4.5"/>
<text x="1036.83" y="858.70" font-family="Liberation Sans" font-size="26.00" fill="#111">0.5</text>
<line x1="1123.90" y1="805.60" x2="1123.90" y2="827.90" stroke="#121212" stroke-width="4.5"/>
<text x="1105.61" y="858.70" font-family="Liberation Sans" font-size="26.00" fill="#111">1.0</text>
<line x1="1193.20" y1="805.60" x2="1193.20" y2="827.90" stroke="#121212" stroke-width="4.5"/>
<text x="1174.91" y="858.70" font-family="Liberation Sans" font-size="26.00" fill="#111">1.5</text>
<line x1="1262.60" y1="805.60" x2="1262.60" y2="827.90" stroke="#121212" stroke-width="4.5"/>
<text x="1244.70" y="858.70" font-family="Liberation Sans" font-size="26.00" fill="#111">2.0</text>
<text x="930.32" y="529.80" font-family="Liberation Sans" font-size="26.50" fill="#111" textLength="28.99" lengthAdjust="spacingAndGlyphs">10</text>
<text x="959.60" y="521.50" font-family="Liberation Sans" font-size="15.00" fill="#111">0</text>
<text x="930.32" y="666.00" font-family="Liberation Sans" font-size="26.50" fill="#111" textLength="28.99" lengthAdjust="spacingAndGlyphs">10</text>
<text x="958.90" y="657.70" font-family="Liberation Sans" font-size="15.00" fill="#111">-1</text>
<text x="930.32" y="803.00" font-family="Liberation Sans" font-size="26.50" fill="#111" textLength="28.99" lengthAdjust="spacingAndGlyphs">10</text>
<text x="960.10" y="794.70" font-family="Liberation Sans" font-size="15.00" fill="#111">-2</text>
<text x="1044.27" y="900.20" font-family="Liberation Sans" font-size="28.00" fill="#111" textLength="171.31" lengthAdjust="spacingAndGlyphs">cisplatin, μM</text>
<text transform="translate(919.00,761.80) rotate(-90)" x="-0.90" y="0" font-family="Liberation Sans" font-size="30.00" fill="#111" textLength="224.79" lengthAdjust="spacingAndGlyphs">surviving fraction</text>
<path d="M1054.60,543.50V553.00M1049.10,543.50h11.00M1049.10,553.00h11.00" stroke="#ff1010" stroke-width="2.6" fill="none"/>
<path d="M1123.90,578.00V597.00M1118.40,578.00h11.00M1118.40,597.00h11.00" stroke="#ff1010" stroke-width="2.6" fill="none"/>
<path d="M1193.20,603.90V628.50M1187.70,603.90h11.00M1187.70,628.50h11.00" stroke="#ff1010" stroke-width="2.6" fill="none"/>
<path d="M1262.60,629.60V652.00M1257.10,629.60h11.00M1257.10,652.00h11.00" stroke="#ff1010" stroke-width="2.6" fill="none"/>
<polyline points="984.90,527.20 1054.60,548.00 1123.90,586.00 1193.20,616.00 1262.60,640.00" fill="none" stroke="#ff1010" stroke-width="2.8" stroke-linejoin="round"/>
<circle cx="984.90" cy="527.20" r="5.00" fill="#fff" stroke="#ff1010" stroke-width="2.6"/>
<circle cx="1054.60" cy="548.00" r="5.00" fill="#fff" stroke="#ff1010" stroke-width="2.6"/>
<circle cx="1123.90" cy="586.00" r="5.00" fill="#fff" stroke="#ff1010" stroke-width="2.6"/>
<circle cx="1193.20" cy="616.00" r="5.00" fill="#fff" stroke="#ff1010" stroke-width="2.6"/>
<circle cx="1262.60" cy="640.00" r="5.00" fill="#fff" stroke="#ff1010" stroke-width="2.6"/>
<path d="M1054.60,543.50V551.00M1049.10,543.50h11.00M1049.10,551.00h11.00" stroke="#ff1010" stroke-width="2.6" fill="none"/>
<path d="M1123.90,575.90V599.40M1118.40,575.90h11.00M1118.40,599.40h11.00" stroke="#ff1010" stroke-width="2.6" fill="none"/>
<path d="M1193.20,599.40V624.00M1187.70,599.40h11.00M1187.70,624.00h11.00" stroke="#ff1010" stroke-width="2.6" fill="none"/>
<path d="M1262.60,626.20V649.70M1257.10,626.20h11.00M1257.10,649.70h11.00" stroke="#ff1010" stroke-width="2.6" fill="none"/>
<polyline points="984.90,527.20 1054.60,546.00 1123.90,582.60 1193.20,613.90 1262.60,638.50" fill="none" stroke="#ff1010" stroke-width="2.8" stroke-linejoin="round"/>
<circle cx="984.90" cy="527.20" r="5.80" fill="#ff1010" stroke="none" stroke-width="0"/>
<circle cx="1054.60" cy="546.00" r="5.80" fill="#ff1010" stroke="none" stroke-width="0"/>
<circle cx="1123.90" cy="582.60" r="5.80" fill="#ff1010" stroke="none" stroke-width="0"/>
<circle cx="1193.20" cy="613.90" r="5.80" fill="#ff1010" stroke="none" stroke-width="0"/>
<circle cx="1262.60" cy="638.50" r="5.80" fill="#ff1010" stroke="none" stroke-width="0"/>
<path d="M1193.20,622.00V654.80M1187.70,622.00h11.00M1187.70,654.80h11.00" stroke="#121212" stroke-width="2.6" fill="none"/>
<path d="M1262.60,663.00V697.30M1257.10,663.00h11.00M1257.10,697.30h11.00" stroke="#121212" stroke-width="2.6" fill="none"/>
<polyline points="984.90,527.20 1054.60,553.50 1123.90,602.30 1193.20,635.80 1262.60,677.60" fill="none" stroke="#121212" stroke-width="2.6" stroke-linejoin="round"/>
<polygon points="981.30,527.20 984.90,523.60 988.50,527.20 984.90,530.80" fill="#121212"/>
<polygon points="1051.00,553.50 1054.60,549.90 1058.20,553.50 1054.60,557.10" fill="#121212"/>
<polygon points="1120.30,602.30 1123.90,598.70 1127.50,602.30 1123.90,605.90" fill="#121212"/>
<polygon points="1189.60,635.80 1193.20,632.20 1196.80,635.80 1193.20,639.40" fill="#121212"/>
<polygon points="1259.00,677.60 1262.60,674.00 1266.20,677.60 1262.60,681.20" fill="#121212"/>
<path d="M1123.90,582.00V596.00M1118.40,582.00h11.00M1118.40,596.00h11.00" stroke="#68bcfd" stroke-width="2.6" fill="none"/>
<path d="M1193.20,606.00V624.00M1187.70,606.00h11.00M1187.70,624.00h11.00" stroke="#68bcfd" stroke-width="2.6" fill="none"/>
<path d="M1262.60,643.40V663.00M1257.10,643.40h11.00M1257.10,663.00h11.00" stroke="#68bcfd" stroke-width="2.6" fill="none"/>
<polyline points="984.90,527.20 1054.60,546.80 1123.90,589.30 1193.20,615.00 1262.60,653.70" fill="none" stroke="#68bcfd" stroke-width="3.0" stroke-linejoin="round"/>
<circle cx="984.90" cy="527.20" r="5.20" fill="#68bcfd" stroke="none" stroke-width="0"/>
<circle cx="1054.60" cy="546.80" r="5.20" fill="#68bcfd" stroke="none" stroke-width="0"/>
<circle cx="1123.90" cy="589.30" r="5.20" fill="#68bcfd" stroke="none" stroke-width="0"/>
<circle cx="1193.20" cy="615.00" r="5.20" fill="#68bcfd" stroke="none" stroke-width="0"/>
<circle cx="1262.60" cy="653.70" r="5.20" fill="#68bcfd" stroke="none" stroke-width="0"/>
<path d="M1054.60,554.70V567.00M1049.10,554.70h11.00M1049.10,567.00h11.00" stroke="#00c4f4" stroke-width="2.6" fill="none"/>
<path d="M1123.90,613.90V630.00M1118.40,613.90h11.00M1118.40,630.00h11.00" stroke="#00c4f4" stroke-width="2.6" fill="none"/>
<path d="M1193.20,658.60V675.40M1187.70,658.60h11.00M1187.70,675.40h11.00" stroke="#00c4f4" stroke-width="2.6" fill="none"/>
<path d="M1262.60,706.70V725.70M1257.10,706.70h11.00M1257.10,725.70h11.00" stroke="#00c4f4" stroke-width="2.6" fill="none"/>
<polyline points="984.90,527.20 1054.60,560.70 1123.90,621.70 1193.20,665.80 1262.60,715.00" fill="none" stroke="#00c4f4" stroke-width="2.6" stroke-linejoin="round"/>
<circle cx="984.90" cy="527.20" r="4.40" fill="#fff" stroke="#5ab8ff" stroke-width="2.4"/>
<circle cx="1054.60" cy="560.70" r="4.40" fill="#fff" stroke="#5ab8ff" stroke-width="2.4"/>
<circle cx="1123.90" cy="621.70" r="4.40" fill="#fff" stroke="#5ab8ff" stroke-width="2.4"/>
<circle cx="1193.20" cy="665.80" r="4.40" fill="#fff" stroke="#5ab8ff" stroke-width="2.4"/>
<circle cx="1262.60" cy="715.00" r="4.40" fill="#fff" stroke="#5ab8ff" stroke-width="2.4"/>
<circle cx="984.90" cy="527.20" r="6.30" fill="#68bcfd" stroke="#ff1010" stroke-width="1.4"/>
<text x="1263.24" y="512.80" font-family="Liberation Sans" font-size="34.00" font-weight="bold" fill="#111" textLength="24.60" lengthAdjust="spacingAndGlyphs">G</text>
<line x1="1355.00" y1="530.40" x2="1355.00" y2="814.90" stroke="#121212" stroke-width="4.6"/>
<line x1="1334.80" y1="532.60" x2="1357.00" y2="532.60" stroke="#121212" stroke-width="4.5"/>
<line x1="1334.80" y1="812.90" x2="1357.00" y2="812.90" stroke="#121212" stroke-width="4.5"/>
<line x1="1343.70" y1="728.52" x2="1357.00" y2="728.52" stroke="#121212" stroke-width="4.0"/>
<line x1="1343.70" y1="679.16" x2="1357.00" y2="679.16" stroke="#121212" stroke-width="4.0"/>
<line x1="1343.70" y1="644.14" x2="1357.00" y2="644.14" stroke="#121212" stroke-width="4.0"/>
<line x1="1343.70" y1="616.98" x2="1357.00" y2="616.98" stroke="#121212" stroke-width="4.0"/>
<line x1="1343.70" y1="594.78" x2="1357.00" y2="594.78" stroke="#121212" stroke-width="4.0"/>
<line x1="1343.70" y1="576.02" x2="1357.00" y2="576.02" stroke="#121212" stroke-width="4.0"/>
<line x1="1343.70" y1="559.76" x2="1357.00" y2="559.76" stroke="#121212" stroke-width="4.0"/>
<line x1="1343.70" y1="545.43" x2="1357.00" y2="545.43" stroke="#121212" stroke-width="4.0"/>
<line x1="1334.80" y1="812.90" x2="1635.00" y2="812.90" stroke="#121212" stroke-width="4.5"/>
<line x1="1355.00" y1="810.90" x2="1355.00" y2="833.20" stroke="#121212" stroke-width="4.5"/>
<text x="1348.02" y="860.10" font-family="Liberation Sans" font-size="26.00" fill="#111">0</text>
<line x1="1493.65" y1="810.90" x2="1493.65" y2="833.20" stroke="#121212" stroke-width="4.5"/>
<text x="1475.88" y="860.10" font-family="Liberation Sans" font-size="26.00" fill="#111">0.5</text>
<line x1="1632.30" y1="810.90" x2="1632.30" y2="833.20" stroke="#121212" stroke-width="4.5"/>
<text x="1614.01" y="860.10" font-family="Liberation Sans" font-size="26.00" fill="#111">1.0</text>
<text x="1305.15" y="537.30" font-family="Liberation Sans" font-size="25.00" fill="#111">10</text>
<text x="1331.70" y="528.80" font-family="Liberation Sans" font-size="15.00" fill="#111">0</text>
<text x="1301.68" y="815.10" font-family="Liberation Sans" font-size="26.00" fill="#111">10</text>
<text x="1330.10" y="806.40" font-family="Liberation Sans" font-size="15.00" fill="#111">-1</text>
<text x="1407.20" y="898.60" font-family="Liberation Sans" font-size="28.00" fill="#111" textLength="203.79" lengthAdjust="spacingAndGlyphs">talazoparib, μM</text>
<text transform="translate(1317.00,785.30) rotate(-90)" x="-0.90" y="0" font-family="Liberation Sans" font-size="30.00" fill="#111" textLength="225.80" lengthAdjust="spacingAndGlyphs">surviving fraction</text>
<path d="M1382.73,540.00V552.00M1377.23,540.00h11.00M1377.23,552.00h11.00" stroke="#ff1010" stroke-width="2.6" fill="none"/>
<path d="M1493.65,588.00V603.00M1488.15,588.00h11.00M1488.15,603.00h11.00" stroke="#ff1010" stroke-width="2.6" fill="none"/>
<path d="M1632.30,620.00V632.90M1626.80,620.00h11.00M1626.80,632.90h11.00" stroke="#ff1010" stroke-width="2.6" fill="none"/>
<polyline points="1355.00,532.60 1368.87,538.00 1382.73,548.70 1493.65,597.40 1632.30,625.10" fill="none" stroke="#ff1010" stroke-width="2.8" stroke-linejoin="round"/>
<circle cx="1355.00" cy="532.60" r="5.00" fill="#fff" stroke="#ff1010" stroke-width="2.6"/>
<circle cx="1368.87" cy="538.00" r="5.00" fill="#fff" stroke="#ff1010" stroke-width="2.6"/>
<circle cx="1382.73" cy="548.70" r="5.00" fill="#fff" stroke="#ff1010" stroke-width="2.6"/>
<circle cx="1493.65" cy="597.40" r="5.00" fill="#fff" stroke="#ff1010" stroke-width="2.6"/>
<circle cx="1632.30" cy="625.10" r="5.00" fill="#fff" stroke="#ff1010" stroke-width="2.6"/>
<path d="M1382.73,535.70V564.80M1377.23,535.70h11.00M1377.23,564.80h11.00" stroke="#ff1010" stroke-width="2.6" fill="none"/>
<path d="M1493.65,581.00V610.90M1488.15,581.00h11.00M1488.15,610.90h11.00" stroke="#ff1010" stroke-width="2.6" fill="none"/>
<path d="M1632.30,613.00V636.30M1626.80,613.00h11.00M1626.80,636.30h11.00" stroke="#ff1010" stroke-width="2.6" fill="none"/>
<polyline points="1355.00,532.60 1368.87,536.20 1382.73,543.50 1493.65,592.70 1632.30,623.80" fill="none" stroke="#ff1010" stroke-width="2.8" stroke-linejoin="round"/>
<circle cx="1355.00" cy="532.60" r="5.80" fill="#ff1010" stroke="none" stroke-width="0"/>
<circle cx="1368.87" cy="536.20" r="5.80" fill="#ff1010" stroke="none" stroke-width="0"/>
<circle cx="1382.73" cy="543.50" r="5.80" fill="#ff1010" stroke="none" stroke-width="0"/>
<circle cx="1493.65" cy="592.70" r="5.80" fill="#ff1010" stroke="none" stroke-width="0"/>
<circle cx="1632.30" cy="623.80" r="5.80" fill="#ff1010" stroke="none" stroke-width="0"/>
<path d="M1368.87,541.00V562.40M1363.37,541.00h11.00M1363.37,562.40h11.00" stroke="#121212" stroke-width="2.6" fill="none"/>
<path d="M1493.65,560.00V572.00M1488.15,560.00h11.00M1488.15,572.00h11.00" stroke="#121212" stroke-width="2.6" fill="none"/>
<polyline points="1355.00,532.60 1368.87,541.00 1382.73,539.60 1493.65,566.80 1632.30,574.60" fill="none" stroke="#121212" stroke-width="2.6" stroke-linejoin="round"/>
<polygon points="1351.40,532.60 1355.00,529.00 1358.60,532.60 1355.00,536.20" fill="#121212"/>
<polygon points="1365.27,541.00 1368.87,537.40 1372.46,541.00 1368.87,544.60" fill="#121212"/>
<polygon points="1379.13,539.60 1382.73,536.00 1386.33,539.60 1382.73,543.20" fill="#121212"/>
<polygon points="1490.05,566.80 1493.65,563.20 1497.25,566.80 1493.65,570.40" fill="#121212"/>
<polygon points="1628.70,574.60 1632.30,571.00 1635.90,574.60 1632.30,578.20" fill="#121212"/>
<path d="M1493.65,547.40V575.10M1488.15,547.40h11.00M1488.15,575.10h11.00" stroke="#68bcfd" stroke-width="2.6" fill="none"/>
<path d="M1632.30,569.90V596.60M1626.80,569.90h11.00M1626.80,596.60h11.00" stroke="#68bcfd" stroke-width="2.6" fill="none"/>
<polyline points="1355.00,532.60 1368.87,542.20 1382.73,557.00 1493.65,561.10 1632.30,582.90" fill="none" stroke="#68bcfd" stroke-width="3.0" stroke-linejoin="round"/>
<circle cx="1355.00" cy="532.60" r="5.20" fill="#68bcfd" stroke="none" stroke-width="0"/>
<circle cx="1368.87" cy="542.20" r="5.20" fill="#68bcfd" stroke="none" stroke-width="0"/>
<circle cx="1382.73" cy="557.00" r="5.20" fill="#68bcfd" stroke="none" stroke-width="0"/>
<circle cx="1493.65" cy="561.10" r="5.20" fill="#68bcfd" stroke="none" stroke-width="0"/>
<circle cx="1632.30" cy="582.90" r="5.20" fill="#68bcfd" stroke="none" stroke-width="0"/>
<path d="M1368.87,619.20V649.20M1363.37,619.20h11.00M1363.37,649.20h11.00" stroke="#00c4f4" stroke-width="2.6" fill="none"/>
<path d="M1382.73,637.60V682.10M1377.23,637.60h11.00M1377.23,682.10h11.00" stroke="#00c4f4" stroke-width="2.6" fill="none"/>
<path d="M1493.65,646.60V708.10M1488.15,646.60h11.00M1488.15,708.10h11.00" stroke="#00c4f4" stroke-width="2.6" fill="none"/>
<path d="M1632.30,681.40V744.30M1626.80,681.40h11.00M1626.80,744.30h11.00" stroke="#00c4f4" stroke-width="2.6" fill="none"/>
<polyline points="1355.00,532.60 1368.87,632.90 1382.73,657.50 1493.65,673.60 1632.30,708.80" fill="none" stroke="#00c4f4" stroke-width="2.6" stroke-linejoin="round"/>
<circle cx="1355.00" cy="532.60" r="4.40" fill="#fff" stroke="#5ab8ff" stroke-width="2.4"/>
<circle cx="1368.87" cy="632.90" r="4.40" fill="#fff" stroke="#5ab8ff" stroke-width="2.4"/>
<circle cx="1382.73" cy="657.50" r="4.40" fill="#fff" stroke="#5ab8ff" stroke-width="2.4"/>
<circle cx="1493.65" cy="673.60" r="4.40" fill="#fff" stroke="#5ab8ff" stroke-width="2.4"/>
<circle cx="1632.30" cy="708.80" r="4.40" fill="#fff" stroke="#5ab8ff" stroke-width="2.4"/>
<circle cx="1355.00" cy="532.60" r="6.30" fill="#68bcfd" stroke="#ff1010" stroke-width="1.4"/>
<text x="476.68" y="930.90" font-family="Liberation Sans" font-size="30.00" font-weight="bold" fill="#111" textLength="80.96" lengthAdjust="spacingAndGlyphs">HeLa</text>
<line x1="537.90" y1="957.00" x2="589.80" y2="957.00" stroke="#68bcfd" stroke-width="2.5"/>
<circle cx="563.60" cy="957.00" r="4.80" fill="#68bcfd" stroke="none" stroke-width="0"/>
<text x="600.05" y="952.40" font-family="Liberation Sans" font-size="25.00" fill="#111" textLength="118.01" lengthAdjust="spacingAndGlyphs">BRCA2 wt</text>
<text x="600.82" y="975.60" font-family="Liberation Sans" font-size="25.00" fill="#111" textLength="168.69" lengthAdjust="spacingAndGlyphs">+ empty vector</text>
<line x1="815.90" y1="942.50" x2="868.20" y2="942.50" stroke="#00c4f4" stroke-width="2.4"/>
<circle cx="841.50" cy="942.50" r="4.70" fill="#fff" stroke="#5ab8ff" stroke-width="2.4"/>
<text x="895.48" y="950.20" font-family="Liberation Sans" font-size="25.00" fill="#111" textLength="275.07" lengthAdjust="spacingAndGlyphs">BRCA2 wt + HSF2BP wt</text>
<line x1="815.90" y1="971.50" x2="868.20" y2="971.50" stroke="#121212" stroke-width="2.6"/>
<polygon points="837.60,971.50 842.00,967.10 846.40,971.50 842.00,975.90" fill="#121212"/>
<text x="895.50" y="979.10" font-family="Liberation Sans" font-size="25.00" fill="#111" textLength="322.89" lengthAdjust="spacingAndGlyphs">BRCA2 wt + HSF2BP R200T</text>
<line x1="1260.50" y1="937.80" x2="1312.00" y2="937.80" stroke="#ff1010" stroke-width="2.4"/>
<circle cx="1286.40" cy="937.80" r="4.60" fill="#ff1010" stroke="none" stroke-width="0"/>
<text x="1334.17" y="945.80" font-family="Liberation Sans" font-size="25.00" fill="#111" textLength="310.24" lengthAdjust="spacingAndGlyphs">BRCA2 Δ12 + empty vector</text>
<line x1="1260.50" y1="969.50" x2="1312.00" y2="969.50" stroke="#ff1010" stroke-width="2.4"/>
<circle cx="1286.40" cy="969.50" r="4.90" fill="#fff" stroke="#ff1010" stroke-width="3.6"/>
<text x="1334.19" y="977.00" font-family="Liberation Sans" font-size="25.00" fill="#111" textLength="293.06" lengthAdjust="spacingAndGlyphs">BRCA2 Δ12 + HSF2BP wt</text>
</svg>
</body></html>
